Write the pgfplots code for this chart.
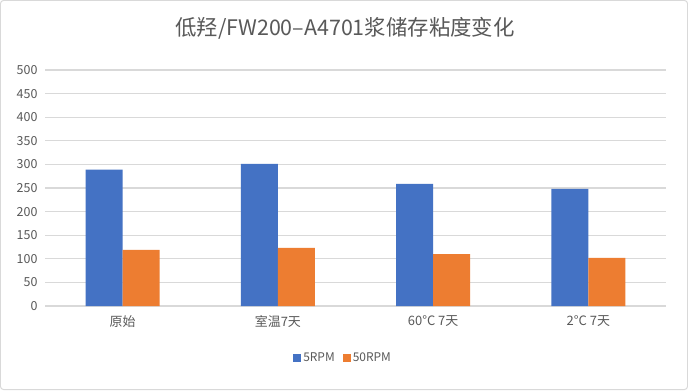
\documentclass[border=0pt]{standalone}
\usepackage{pgfplots}
\pgfplotsset{compat=1.18}
\usepackage{fontspec}
\setmainfont{Noto Sans CJK SC}
\definecolor{cblue}{HTML}{4472C4}
\definecolor{corange}{HTML}{ED7D31}
\definecolor{txt}{HTML}{595959}
\definecolor{gridc}{HTML}{D9D9D9}
\begin{document}
\begin{tikzpicture}[x=1bp,y=1bp]
\draw[draw=gridc, line width=1bp, rounded corners=3bp, fill=white] (0.5,0.5) rectangle (687.5,389.5);
\node[font=\fontsize{21.5}{24}\selectfont, text=txt] at (345,362) {低羟/FW200–A4701浆储存粘度变化};
\begin{axis}[
  at={(45bp,84bp)}, anchor=south west,
  scale only axis, width=621bp, height=236bp,
  xmin=-0.5, xmax=3.5, ymin=0, ymax=500,
  ytick={0,50,...,500},
  xtick={0,1,2,3},
  xticklabels={原始,室温7天,60°C 7天,2°C 7天},
  /pgf/number format/assume math mode=true,
  ymajorgrids, grid style={draw=gridc, line width=1.3bp},
  axis line style={draw=none},
  major tick length=0pt,
  ticklabel style={font=\fontsize{12.5}{14}\selectfont, text=txt},
  xticklabel style={font=\fontsize{13}{15}\selectfont, yshift=-6bp},
  yticklabel style={xshift=-4bp},
  ybar=0pt, bar width=37bp,
  legend style={at={(0.48,-0.22)}, anchor=center, draw=none, font=\fontsize{12}{14}\selectfont, text=txt, legend columns=2, /tikz/every even column/.append style={column sep=6bp}},
  legend image code/.code={\fill[#1] (0bp,-4bp) rectangle (8bp,4bp);},
]
\addplot[fill=cblue, draw=none] coordinates {(0,289) (1,301) (2,259) (3,248)};
\addplot[fill=corange, draw=none] coordinates {(0,119) (1,123) (2,110) (3,102)};
\legend{5RPM,50RPM}
\end{axis}
\end{tikzpicture}
\end{document}
